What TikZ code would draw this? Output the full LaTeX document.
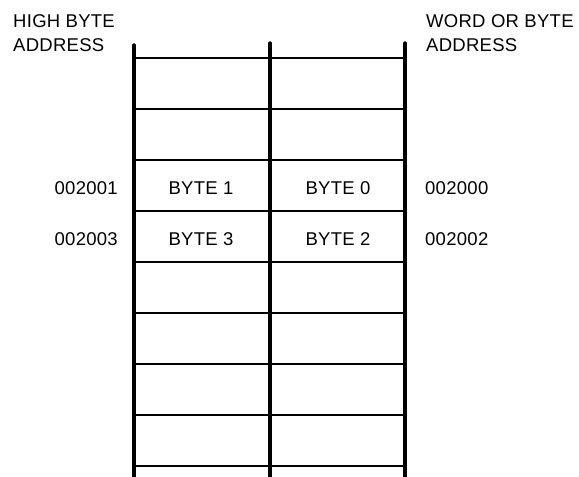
\documentclass[tikz,border=0pt]{standalone}
\usepackage{fontspec}
\setmainfont{Liberation Sans}[LetterSpace=1.5]
\begin{document}
\begin{tikzpicture}[x=1pt,y=-1pt,
  lbl/.style={inner sep=0pt,font=\fontsize{18.5}{24}\selectfont},
  rail/.style={line width=3.4pt,line cap=round},
  rung/.style={line width=2pt}]
\useasboundingbox (0,0) rectangle (579,477);
% rails
\coordinate (lt) at (134,45);  \coordinate (lb) at (134,480);
\coordinate (mt) at (270,43);  \coordinate (mb) at (270,480);
\coordinate (rt) at (405,43);  \coordinate (rb) at (405,480);
% rungs
\foreach \y [count=\i] in {58,109,160,211,262,313,364,415,466}{
  \coordinate (hl\i) at (134,\y);
  \coordinate (hr\i) at (405,\y);
  \draw[rung] (hl\i) -- (hr\i);
}
\draw[rail] (lt) -- (lb);
\draw[rail] (mt) -- (mb);
\draw[rail] (rt) -- (rb);
% headers
\node[lbl,anchor=base west] (h1) at (13,27) {HIGH BYTE};
\node[lbl,anchor=base west] (h2) at (13,51) {ADDRESS};
\node[lbl,anchor=base west] (w1) at (426,27) {WORD OR BYTE};
\node[lbl,anchor=base west] (w2) at (426,51) {ADDRESS};
% row 1
\node[lbl,anchor=base east] (a1) at (118,194) {002001};
\node[lbl,anchor=base] (b1) at (201,194) {BYTE 1};
\node[lbl,anchor=base] (b0) at (338,194) {BYTE 0};
\node[lbl,anchor=base west] (a0) at (425,194) {002000};
% row 2
\node[lbl,anchor=base east] (a3) at (118,245) {002003};
\node[lbl,anchor=base] (b3) at (201,245) {BYTE 3};
\node[lbl,anchor=base] (b2) at (338,245) {BYTE 2};
\node[lbl,anchor=base west] (a2) at (425,245) {002002};
\end{tikzpicture}
\end{document}
